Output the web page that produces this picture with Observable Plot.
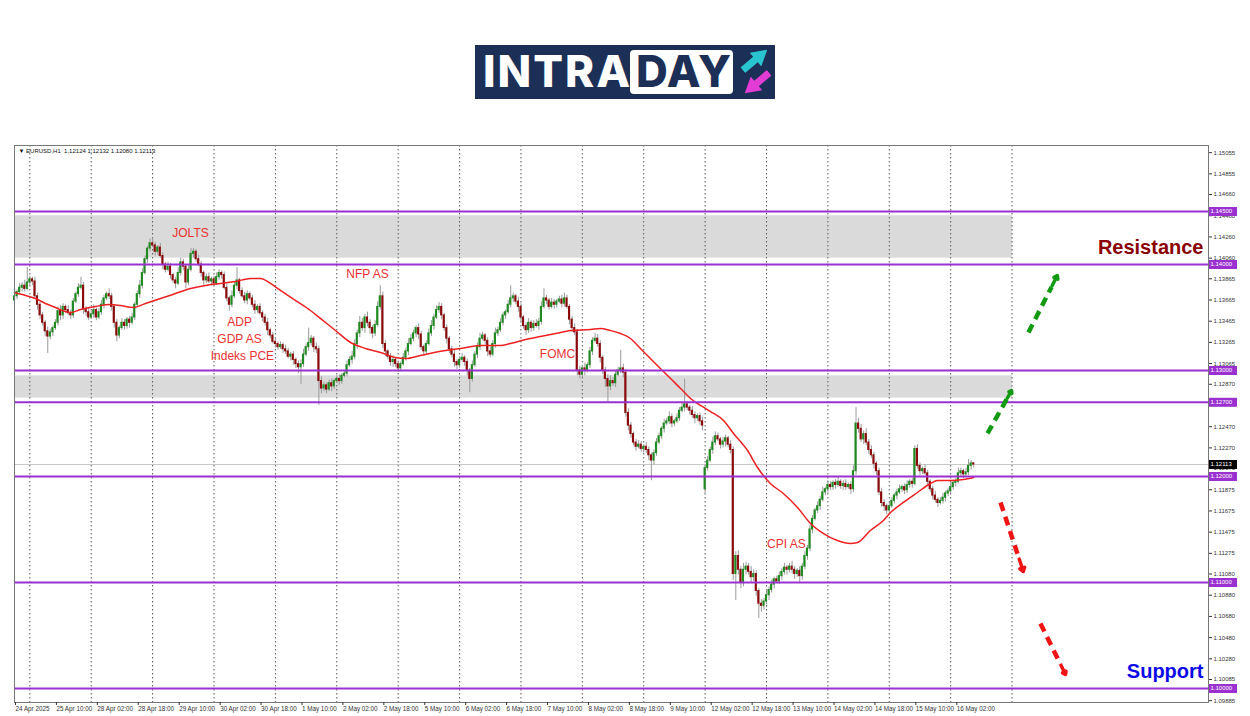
<!DOCTYPE html>
<html>
<head>
<meta charset="utf-8">
<script src="https://cdn.jsdelivr.net/npm/d3@7"></script>
<script src="https://cdn.jsdelivr.net/npm/@observablehq/plot@0.6"></script>
<style>
  body { margin: 0; background: #fff; width: 1250px; height: 716px; overflow: hidden; font-family: "Liberation Sans", Arial, sans-serif; }
  #header { position: relative; width: 1250px; height: 140px; }
  #logo { position: absolute; left: 475px; top: 45px; width: 300px; height: 54px; background: #1c2f57; overflow: hidden; }
  .intra { position: absolute; left: 8px; top: 4px; font: 800 44px/44px Inter, "Open Sans", sans-serif; color: #fff; letter-spacing: 2px; }
  #daybox { position: absolute; left: 155px; top: 5px; width: 103px; height: 44px; background: #fff; border-radius: 4px; }
  .day { position: absolute; left: 6px; top: -1px; font: 800 44px/44px Inter, "Open Sans", sans-serif; color: #1c2f57; letter-spacing: 1px; }
  .arr { position: absolute; width: 32px; height: 18px; clip-path: polygon(0 30%, 52% 30%, 52% 0, 100% 50%, 52% 100%, 52% 70%, 0 70%); }
</style>
</head>
<body>
<div id="header">
  <div id="logo">
    <span class="intra">INTRA</span>
    <div id="daybox"><span class="day">DAY</span></div>
    <div class="arr" style="left:264px;top:6px;background:#29c4cf;transform:rotate(-40deg)"></div>
    <div class="arr" style="left:266px;top:29px;background:#e23bd6;transform:rotate(140deg)"></div>
  </div>
</div>
<div id="chart"></div>
<script>
// ---- Data (prices in pips above 1.10000; 1 pip = 0.0001) ----
// EURUSD H1 hourly closes, bar 0 = 24 Apr 2025 18:00
const closePips = [
  370,374,378,380,377,383,386,384,370,362,
  352,345,337,332,336,340,345,356,352,360,
  357,354,352,365,372,378,380,358,355,350,
  353,357,350,355,362,368,372,370,360,345,
  333,340,345,342,348,345,350,362,372,380,
  392,405,415,420,418,412,416,408,400,395,
  398,390,385,382,392,402,398,383,395,410,
  412,405,400,392,385,388,384,386,382,388,
  392,390,378,368,362,370,380,385,375,370,
  366,372,368,362,357,360,354,350,345,338,
  333,327,325,322,324,320,318,313,315,310,
  306,303,306,315,322,326,330,322,320,290,
  283,286,282,288,285,290,292,290,295,297,
  305,310,313,325,335,345,340,350,345,340,
  335,343,360,370,325,318,313,308,310,306,
  302,306,312,318,325,330,335,340,334,322,
  318,325,335,342,350,357,360,352,340,330,
  320,315,308,305,310,312,308,300,292,305,
  315,322,330,333,328,318,315,325,335,338,
  345,352,355,362,368,370,365,360,350,342,
  338,345,340,344,342,346,360,368,366,360,
  364,362,365,367,363,368,360,348,340,336,
  300,296,302,300,305,318,328,330,325,312,
  300,292,285,290,288,296,300,302,298,260,
  248,240,232,228,230,226,228,225,220,215,
  222,232,238,245,250,252,256,250,252,255,
  262,265,268,265,262,258,255,257,252,248,
  208,215,225,232,238,235,230,233,236,230,
  225,108,125,112,100,112,115,110,105,108,
  92,80,78,82,88,93,98,103,101,106,
  110,114,112,115,112,108,111,106,115,125,
  132,150,160,168,172,178,185,188,192,190,
  194,192,195,191,193,190,192,188,205,250,
  245,235,240,232,225,220,212,205,185,175,
  172,168,172,177,182,185,188,190,187,192,
  195,193,226,210,205,207,203,195,188,182,
  178,175,177,180,184,186,190,194,195,203,
  205,202,204,210,212.4,211.3
];
// upper wick above the body (pips)
const upWick = [
  5,2,4,3,5,14,3,2,4,3, 2,3,2,4,3,2,3,4,5,3, 2,4,3,3,2,4,8,3,2,4, 3,5,2,3,4,3,2,5,3,2,
  3,2,4,3,2,3,4,2,3,5, 4,3,2,4,5,3,2,4,3,2, 4,3,2,3,5,4,3,2,4,5, 3,2,4,3,2,3,4,2,3,4,
  3,2,3,4,2,5,3,12,2,3, 4,3,2,3,4,2,3,2,3,4, 2,3,4,2,3,2,4,3,2,3, 2,3,4,5,3,14,3,2,4,3,
  4,3,2,3,4,2,3,4,2,3, 4,3,5,4,3,6,4,3,5,3, 2,4,5,10,4,3,2,3,4,2, 3,2,4,3,5,4,3,2,4,3,
  2,3,4,5,3,4,4,3,2,3, 2,3,4,2,3,4,2,3,2,4, 3,4,5,3,2,3,4,3,5,3, 4,3,2,4,12,3,2,4,3,2,
  3,4,2,3,4,3,5,9,3,2, 4,3,2,3,4,5,3,2,3,4, 3,4,3,5,2,4,3,5,4,3, 2,3,4,5,3,4,3,17,4,3,
  4,3,2,3,4,3,2,4,3,2, 3,4,3,2,4,3,5,3,2,4, 3,4,24,3,2,4,3,2,3,4, 3,4,3,5,4,3,2,4,3,2,
  4,3,4,5,3,6,4,3,5,4, 3,2,4,3,5,3,4,2,3,4, 3,4,2,3,5,3,2,4,3,4, 3,4,3,2,4,3,5,2,4,3,
  2,3,4,2,3,4,2,3,5,15, 5,4,3,5,3,4,3,2,3,4, 3,2,4,3,2,3,4,2,3,4, 2,3,3,4,3,2,4,3,2,3,
  4,2,3,4,2,3,4,2,3,5, 3,2,4,6,3,0.8
];
// lower wick below the body (pips)
const lowWick = [
  19,3,2,4,3,2,3,4,2,5, 4,3,5,16,3,4,2,3,5,4, 3,2,4,3,2,3,2,5,4,3, 2,4,3,2,3,4,2,3,4,5,
  6,3,2,4,3,5,2,3,2,4, 3,2,4,3,2,4,3,2,5,3, 2,4,3,5,2,3,4,6,3,2, 4,3,2,4,5,3,2,4,3,2,
  3,4,2,3,6,3,2,4,3,2, 3,4,2,3,4,3,2,4,3,5, 3,2,4,3,2,4,3,2,4,5, 4,6,16,3,2,4,3,5,4,23,
  5,3,4,2,5,3,2,4,3,2, 3,2,4,3,5,4,3,5,4,6, 5,3,2,3,4,5,3,4,5,3, 4,3,2,3,4,2,3,4,5,3,
  4,3,2,3,4,2,3,4,3,5, 4,3,5,4,3,2,4,5,13,3, 2,4,3,2,4,5,3,2,4,3, 2,3,4,2,3,4,3,5,4,3,
  5,3,4,3,2,4,3,2,4,3, 2,4,3,2,4,3,2,5,4,3, 5,4,3,5,2,3,4,2,3,5, 4,8,15,4,3,4,2,3,5,4,
  5,4,3,4,2,3,4,3,5,19, 4,3,2,3,4,2,3,4,3,2, 3,2,4,3,4,3,5,3,4,5, 4,3,2,4,3,2,4,3,5,3,
  4,6,25,5,6,4,5,3,6,4, 5,14,6,4,3,5,3,4,2,3, 4,3,5,3,4,5,3,6,4,3, 4,3,4,2,3,4,2,3,4,3,
  3,4,2,3,4,3,2,5,3,4, 4,3,5,3,4,3,5,4,3,4, 5,4,3,2,3,4,2,3,4,3, 3,4,2,3,4,3,2,4,3,4,
  3,4,2,3,4,3,2,3,4,2, 3,4,2,3,4,3.3
];
// bars whose open is not the previous close (first bar, weekend gap 12 May)
const gapBars = [0, 270];
const gapOpens = [366, 188];

// red moving average, read at sample bars
const maBars = [0,4.3,8.2,12.1,16,21.9,25.8,31.7,37.5,41.4,46.5,51.2,57.1,62.9,68.8,74.7,80.5,86.4,92.3,96.2,
  100.1,104,109.9,115.7,119.6,125.5,131.4,137.2,143.1,148.9,152.9,158.7,168.5,174.4,182.2,190,193.9,199.8,205.6,211.5,
  217.4,225.2,229.1,233,236.9,240.8,244.7,248.6,252.5,256.5,260.4,264.3,268.2,272.1,277.2,281.1,286.6,290.5,295.5,300.6,
  306.1,311.2,316.3,321.7,326.8,329.6,334.6,339.7,342.5,347.5,353,358.1,360.8,365.9,371,375];
const maPips = [373.6,370.8,367.9,363.2,359.4,354.7,357.5,360.4,362.3,361.3,359.4,363.2,367.9,372.6,377.4,380.2,382.1,384,386.8,386.8,
  382.1,375.5,366,356.6,349.1,337.7,326.4,320.8,317,312.3,311.3,314.2,318.9,320.8,323.6,323.6,325.5,329.2,332.1,334.9,
  337.7,338.7,339.6,337.7,334.9,330.2,320.8,311.3,301.9,292.5,283,273.6,267,261.3,252.8,240.6,224.5,208.5,193.4,184,
  170.8,155.7,146.2,139.6,136.8,137.7,149.1,158.5,166,175.5,184.9,193.4,196.2,196.2,197.2,199.1];

// horizontal levels and zones
const levels = [1.145, 1.140, 1.130, 1.127, 1.120, 1.110, 1.100];
const zoneLow = [1.1406, 1.1274];
const zoneHigh = [1.1446, 1.1295];
const zoneEndBar = 390.2;
const lastPrice = 1.12113;
const infoText = "\u25BC EURUSD,H1  1.12124 1.12132 1.12080 1.12113";

// axes
const gridBars = [6,30,54,78,102,126,150,174,198,222,246,270,294,318,342,366,390];
const xTickBars = [0,16,32,48,64,80,96,112,128,144,160,176,192,208,224,240,256,272,288,304,320,336,352,368];
const xTickLabels = ["24 Apr 2025","25 Apr 10:00","28 Apr 02:00","28 Apr 18:00","29 Apr 10:00","30 Apr 02:00","30 Apr 18:00",
  "1 May 10:00","2 May 02:00","2 May 18:00","5 May 10:00","6 May 02:00","6 May 18:00","7 May 10:00","8 May 02:00",
  "8 May 18:00","9 May 10:00","12 May 02:00","12 May 18:00","13 May 10:00","14 May 02:00","14 May 18:00","15 May 10:00","16 May 02:00"];
const yTickVals = [1.15055,1.14855,1.14660,1.14460,1.14260,1.14060,1.13865,1.13665,1.13465,1.13265,1.13065,1.12870,
  1.12470,1.12270,1.12075,1.11875,1.11675,1.11475,1.11275,1.11080,1.10880,1.10680,1.10480,1.10280,1.10085,1.09885];

// annotations
const noteText = ["JOLTS","NFP AS","ADP","GDP AS","Indeks PCE","FOMC","CPI AS"];
const noteBar = [68.8,138,88,88,89.1,212.3,301.8];
const notePrice = [1.14297,1.13910,1.13457,1.13297,1.13137,1.13155,1.11363];
const arrowDir = ["up","up","down","down"];
const arrowTailBar = [380.4,396.4,385.5,401.1];
const arrowTailPrice = [1.12406,1.13358,1.11755,1.10613];
const arrowTipBar = [389.8,407.7,394.4,410.9];
const arrowTipPrice = [1.12811,1.13896,1.11104,1.10132];
const zoneLabels = ["Resistance","Support"];
const zoneLabelPrice = [1.14161,1.10164];

// ---- build tables ----
const priceOf = v => 1.1 + v / 10000;
const bars = closePips.map((c, i) => {
  const g = gapBars.indexOf(i);
  const o = g >= 0 ? gapOpens[g] : closePips[i - 1];
  return {i, o: priceOf(o), c: priceOf(c),
    h: priceOf(Math.max(o, c) + upWick[i]), l: priceOf(Math.min(o, c) - lowWick[i])};
});
const ma = maBars.map((b, k) => ({i: b, p: priceOf(maPips[k])}));
const zones = zoneLow.map((lo, k) => ({lo, hi: zoneHigh[k]}));
const notes = noteText.map((t, k) => ({t, i: noteBar[k], p: notePrice[k]}));
const arrows = arrowDir.map((d, k) => ({d, x1: arrowTailBar[k], y1: arrowTailPrice[k], x2: arrowTipBar[k], y2: arrowTipPrice[k]}));
const xLabel = new Map(xTickBars.map((b, k) => [b, xTickLabels[k]]));
const arrowColor = d => d.d === "up" ? "#139a13" : "#f01414";
const along = (d, f) => ({x: d.x1 + f * (d.x2 - d.x1), y: d.y1 + f * (d.y2 - d.y1)});

const chart = Plot.plot({
  width: 1250, height: 576,
  marginLeft: 14, marginRight: 42, marginTop: 5, marginBottom: 14,
  style: {fontFamily: "'Liberation Sans', Arial, sans-serif", background: "#fff", color: "#222"},
  x: {domain: [0, 466.8]},
  y: {domain: [1.098679, 1.151226]},
  marks: [
    Plot.rect(zones, {x1: 0, x2: zoneEndBar, y1: "lo", y2: "hi", fill: "#dadada"}),
    Plot.ruleX(gridBars, {stroke: "#555", strokeDasharray: "1.5,2.5", strokeWidth: 1}),
    Plot.ruleY([lastPrice], {stroke: "#c8c8c8"}),
    Plot.ruleX(bars, {x: "i", y1: "l", y2: "h", stroke: "#9a9a9a", strokeWidth: 1}),
    Plot.rect(bars, {x1: d => d.i - 0.42, x2: d => d.i + 0.42, y1: "o", y2: "c",
      fill: d => d.c >= d.o ? "#1f8a1f" : "#8b0a0a", insetTop: -0.5, insetBottom: -0.5}),
    Plot.line(ma, {x: "i", y: "p", stroke: "#ee2020", strokeWidth: 1.5, curve: "monotone-x"}),
    Plot.ruleY(levels, {stroke: "#9b30d0", strokeWidth: 2}),
    Plot.text(notes, {x: "i", y: "p", text: "t", fill: "#ec3030", fontSize: 12}),
    Plot.link(arrows, {x1: "x1", y1: "y1", x2: d => along(d, 0.8).x, y2: d => along(d, 0.8).y,
      stroke: arrowColor, strokeWidth: 4.5, strokeDasharray: "9,6"}),
    Plot.arrow(arrows, {x1: d => along(d, 0.82).x, y1: d => along(d, 0.82).y, x2: "x2", y2: "y2",
      stroke: arrowColor, strokeWidth: 3.5, headLength: 15, headAngle: 70}),
    Plot.text(zoneLabels, {frameAnchor: "right", y: (d, k) => zoneLabelPrice[k], dx: -5, textAnchor: "end",
      fontSize: 20, fontWeight: "bold", fill: (d, k) => k === 0 ? "#8b0000" : "#0a0ae8"}),
    Plot.frame({stroke: "#777"}),
    Plot.axisX(xTickBars, {anchor: "bottom", tickSize: 3, tickPadding: 1, tickFormat: d => xLabel.get(d),
      textAnchor: "start", dx: 1, fontSize: 6.3, label: null, color: "#333"}),
    Plot.axisY(yTickVals, {anchor: "right", tickSize: 3, tickPadding: 2, tickFormat: d => d.toFixed(5),
      fontSize: 6, label: null, color: "#333"}),
    Plot.ruleY(levels, {stroke: "#9b30d0", strokeWidth: 9, insetLeft: 1195, insetRight: -29}),
    Plot.text(levels, {y: d => d, text: d => d.toFixed(5), frameAnchor: "right", textAnchor: "start", dx: 2, fill: "#fff", fontSize: 6}),
    Plot.ruleY([lastPrice], {stroke: "#000", strokeWidth: 9, insetLeft: 1195, insetRight: -29}),
    Plot.text([lastPrice], {y: d => d, text: d => d.toFixed(5), frameAnchor: "right", textAnchor: "start", dx: 2, fill: "#fff", fontSize: 6}),
    Plot.text([infoText], {frameAnchor: "top-left", dx: 4, dy: 3, textAnchor: "start", lineAnchor: "top", fontSize: 6, fill: "#111"})
  ]
});
document.getElementById("chart").appendChild(chart);
</script>
</body>
</html>
